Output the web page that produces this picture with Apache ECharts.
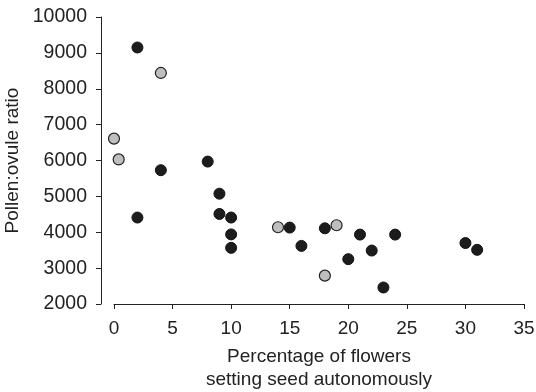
<!DOCTYPE html>
<html>
<head>
<meta charset="utf-8">
<script src="https://cdn.jsdelivr.net/npm/echarts@6/dist/echarts.min.js"></script>
<style>
  html, body { margin: 0; padding: 0; background: #fff; }
  #chart { width: 536px; height: 392px; }
</style>
</head>
<body>
<div id="chart"></div>
<script>
// autonomous seed set (%) vs pollen:ovule ratio
var blackX = [2, 4, 8, 9, 2, 9, 10, 10, 10, 15, 16, 18, 20, 21, 22, 23, 24, 30, 31];
var blackY = [9150, 5730, 5970, 5075, 4410, 4510, 4410, 3940, 3565, 4130, 3620, 4110, 3250, 3935, 3490, 2460, 3935, 3700, 3510];
var grayX = [4, 0, 0.4, 14, 19, 18];
var grayY = [8440, 6610, 6030, 4140, 4195, 2790];
var xTicks = [0, 5, 10, 15, 20, 25, 30, 35];
var yTicks = [2000, 3000, 4000, 5000, 6000, 7000, 8000, 9000, 10000];

var font = 'Liberation Sans, Arial, Helvetica, sans-serif';
var ink = '#222';

function pairs(xs, ys) {
    var out = [];
    for (var i = 0; i < xs.length; i++) {
        out.push([xs[i], ys[i]]);
    }
    return out;
}

var chart = echarts.init(document.getElementById('chart'));
var option = {
    animation: false,
    grid: {
        left: 114,
        right: 12,
        top: 17,
        bottom: 88,
        outerBoundsMode: 'none',
        containLabel: false
    },
    xAxis: {
        type: 'value',
        min: xTicks[0],
        max: xTicks[xTicks.length - 1],
        interval: 5,
        name: 'Percentage of flowers\nsetting seed autonomously',
        nameLocation: 'middle',
        nameGap: 41,
        nameTextStyle: { color: ink, fontSize: 19, fontFamily: font, lineHeight: 23 },
        axisLine: { onZero: false, lineStyle: { color: ink, width: 1 } },
        axisTick: { show: true, length: 5, inside: false, lineStyle: { color: ink } },
        axisLabel: { color: ink, fontSize: 19, fontFamily: font, margin: 15 },
        splitLine: { show: false }
    },
    yAxis: {
        type: 'value',
        min: yTicks[0],
        max: yTicks[yTicks.length - 1],
        interval: 1000,
        offset: 13,
        name: 'Pollen:ovule ratio',
        nameLocation: 'middle',
        nameGap: 69,
        nameTextStyle: { color: ink, fontSize: 19, fontFamily: font },
        axisLine: { show: true, onZero: false, lineStyle: { color: ink, width: 1 } },
        axisTick: { show: true, length: 5, inside: false, lineStyle: { color: ink } },
        axisLabel: {
            color: ink, fontSize: 19.5, fontFamily: font, margin: 14,
            formatter: function (v) { return String(v); }
        },
        splitLine: { show: false }
    },
    series: [
        {
            type: 'scatter',
            data: pairs(blackX, blackY),
            symbol: 'circle',
            symbolSize: 11,
            itemStyle: { color: '#1c1c1c', borderColor: '#111', borderWidth: 1, opacity: 1 }
        },
        {
            type: 'scatter',
            data: pairs(grayX, grayY),
            symbol: 'circle',
            symbolSize: 11,
            itemStyle: { color: '#bebebe', borderColor: '#222', borderWidth: 1.2, opacity: 1 }
        }
    ]
};
chart.setOption(option);
</script>
</body>
</html>
